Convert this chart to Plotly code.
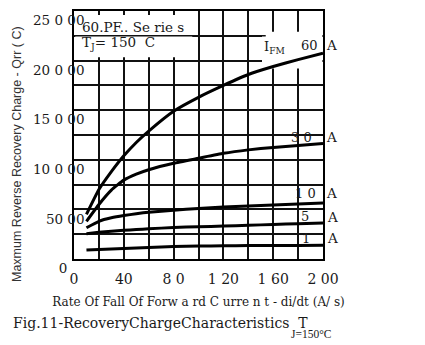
import plotly.graph_objects as go

# data
rate = [10, 20, 30, 40, 50, 60, 80, 100, 120, 140, 160, 180, 200]
q_60A = [4500, 7000, 8800, 10400, 11750, 12900, 14900, 16300, 17500, 18600, 19400, 20100, 20750]
q_30A = [3800, 5500, 6950, 7950, 8550, 9000, 9650, 10150, 10650, 11000, 11250, 11450, 11650]
q_10A = [3150, 3800, 4150, 4380, 4560, 4710, 4910, 5100, 5250, 5350, 5450, 5550, 5650]
q_5A = [2550, 2700, 2800, 2900, 2970, 3040, 3180, 3250, 3320, 3400, 3480, 3560, 3640]
q_1A = [900, 960, 1010, 1060, 1110, 1160, 1270, 1300, 1330, 1350, 1360, 1370, 1380]

x_tickvals = [0, 40, 80, 120, 160, 200]
x_ticktext = ["0", "40", "8 0", "1 20", "1 60", "2 00"]
y_tickvals = [0, 5000, 10000, 15000, 20000, 25000]
y_ticktext = ["0\u00a0\u00a0\u00a0\u00a0", "50 00", "10 0 00", "15 0 00", "20 0 00", "25 0 00"]

SERIF = "DejaVu Serif"
TXT = "#1a1a1a"

W, H = 425, 345
L, R, T, B = 74, 102, 11, 86
pw, ph = W - L - R, H - T - B
def px(xp): return (xp - L) / pw
def py(yp): return (H - B - yp) / ph

fig = go.Figure()
for ys in [q_60A, q_30A, q_10A, q_5A, q_1A]:
    fig.add_trace(go.Scatter(x=rate, y=ys, mode="lines",
                             line=dict(color="black", width=3, shape="spline", smoothing=0.4),
                             showlegend=False, hoverinfo="skip"))

gc, gw = "#111111", 1.5
fig.update_xaxes(range=[0, 200], tickvals=x_tickvals, ticktext=x_ticktext,
                 showgrid=True, gridcolor=gc, gridwidth=gw,
                 minor=dict(dtick=20, tick0=0, showgrid=True, gridcolor=gc, gridwidth=gw),
                 showline=True, mirror=True, linecolor="black", linewidth=1.5,
                 zeroline=False, ticks="", tickfont=dict(family=SERIF, size=14, color=TXT),
                 ticklabelstandoff=6,
                 title=dict(text="Rate Of Fall Of Forw a rd C urre n t - di/dt (A/ s)",
                            font=dict(family=SERIF, size=12, color=TXT), standoff=12))
fig.update_yaxes(range=[0, 25000], tickvals=y_tickvals, ticktext=y_ticktext,
                 showgrid=True, gridcolor=gc, gridwidth=gw,
                 minor=dict(dtick=2500, tick0=0, showgrid=True, gridcolor=gc, gridwidth=gw),
                 showline=True, mirror=True, linecolor="black", linewidth=1.5,
                 zeroline=False, ticks="", tickfont=dict(family=SERIF, size=13.5, color=TXT),
                 ticklabelposition="outside bottom", ticklabelstandoff=-15)

# white patches hiding grid behind the text labels
fig.add_shape(type="rect", layer="between", x0=1, x1=95, y0=20350, y1=24600,
              fillcolor="white", line=dict(width=0))
fig.add_shape(type="rect", layer="between", x0=151, x1=199.5, y0=19200, y1=22900,
              fillcolor="white", line=dict(width=0))
fig.add_shape(type="line", layer="between", x0=0, x1=154, y0=22500, y1=22500,
              line=dict(color=gc, width=gw))

def t(text, xp, yp, size=12.5, xanchor="left", font=SERIF, color=TXT, angle=0):
    fig.add_annotation(text=text, x=px(xp), y=py(yp), xref="paper", yref="paper", showarrow=False,
                       xanchor=xanchor, yanchor="middle", textangle=angle,
                       font=dict(family=font, size=size, color=color))

t("Maxmum Reverse Recovery Charge - Qrr ( C)", 17, 154, size=12.5, xanchor="center",
  font="Liberation Sans", color="#333333", angle=-90)

t("60.PF.. Se rie s", 80, 27, size=13.5)
t("T<sub>J</sub>= 150  C", 80, 43, size=13.5)
t("I<sub>FM</sub>", 262, 48, size=13)
t("60", 299, 45, size=13)
t("A", 324, 45, size=13.5)
t("3 0", 289, 137, size=13)
t("A", 324, 137, size=13.5)
t("1 0", 293, 193, size=13)
t("A", 324, 193, size=13.5)
t("5", 299, 216, size=13)
t("A", 325, 217, size=13.5)
t("1", 300, 238, size=13)
t("A", 325, 238, size=13.5)

t("Fig.11-RecoveryChargeCharacteristics  T", 11, 323, size=14)
t("J=150°C", 289, 334, size=11.5, font="Liberation Serif")

fig.update_layout(width=W, height=H, margin=dict(l=L, r=R, t=T, b=B, autoexpand=False),
                  paper_bgcolor="white", plot_bgcolor="white")
fig.write_html("out.html")
